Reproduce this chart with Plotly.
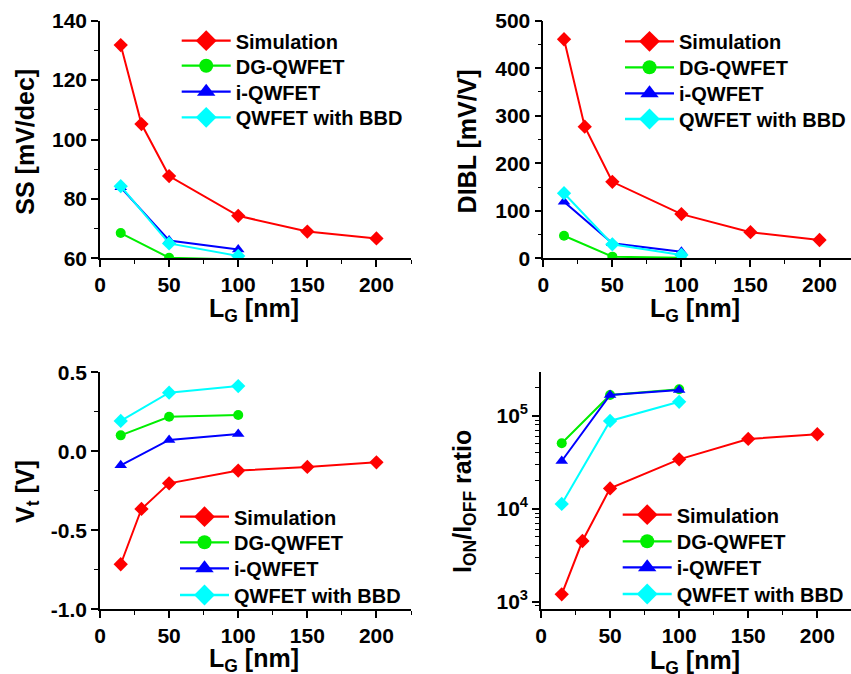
import plotly.graph_objects as go

# ---------------- data ----------------
series_names = ["Simulation", "DG-QWFET", "i-QWFET", "QWFET with BBD"]
lg_sim = [15, 30, 50, 100, 150, 200]
lg_dev = [15, 50, 100]

ss_sim = [131.8, 105.2, 87.7, 74.3, 69.0, 66.7]
ss_dg = [68.5, 60.2, 59.6]
ss_i = [83.9, 66.0, 63.0]
ss_bbd = [84.3, 65.0, 60.8]

dibl_sim = [461, 277, 161, 93, 55, 38.5]
dibl_dg = [47.5, 3.5, 1.0]
dibl_i = [119, 31.5, 14]
dibl_bbd = [137, 29.5, 7]

vt_sim = [-0.715, -0.365, -0.203, -0.122, -0.099, -0.07]
vt_dg = [0.101, 0.219, 0.23]
vt_i = [-0.089, 0.072, 0.11]
vt_bbd = [0.192, 0.371, 0.413]

ion_sim = [1200, 4500, 16600, 34100, 56500, 63500]
ion_dg = [50800, 168000, 194000]
ion_i = [32700, 168000, 190000]
ion_bbd = [11300, 88300, 142000]

x_ticks = [0, 50, 100, 150, 200]
x_tick_labels = ["0", "50", "100", "150", "200"]
vt_ticks = [0.5, 0.0, -0.5, -1.0]
vt_tick_labels = ["0.5", "0.0", "-0.5", "-1.0"]
ion_ticks = [1e3, 1e4, 1e5]
ion_tick_labels = ["10<sup>3</sup>", "10<sup>4</sup>", "10<sup>5</sup>"]
ion_minor = [m * 10 ** e for e in (2, 3, 4, 5) for m in range(2, 10)]

colors = ["#FF0000", "#00EE00", "#0000FF", "#00FFFF"]
symbols = ["diamond", "circle", "triangle-up", "diamond"]
msizes = [11, 10, 11, 11]
leg_sizes = [16, 14, 16, 16]

panels = [
    dict(sim=ss_sim, dg=ss_dg, i=ss_i, bbd=ss_bbd),
    dict(sim=dibl_sim, dg=dibl_dg, i=dibl_i, bbd=dibl_bbd),
    dict(sim=vt_sim, dg=vt_dg, i=vt_i, bbd=vt_bbd),
    dict(sim=ion_sim, dg=ion_dg, i=ion_i, bbd=ion_bbd),
]

W, H = 851, 674
FONT = "Liberation Sans, Arial, sans-serif"


def legname(idx):
    return "legend" if idx == 1 else f"legend{idx}"


fig = go.Figure()

for p, d in enumerate(panels):
    xa = "x" if p == 0 else f"x{p+1}"
    ya = "y" if p == 0 else f"y{p+1}"
    ys = [d["sim"], d["dg"], d["i"], d["bbd"]]
    xs = [lg_sim, lg_dev, lg_dev, lg_dev]
    for k in range(4):
        fig.add_trace(go.Scatter(
            x=xs[k], y=ys[k], mode="lines+markers", xaxis=xa, yaxis=ya,
            line=dict(color=colors[k], width=2.0),
            marker=dict(symbol=symbols[k], size=msizes[k], color=colors[k]),
            showlegend=False, name=series_names[k]))
    # legend entries (no data points), one legend per entry
    for k in range(4):
        fig.add_trace(go.Scatter(
            x=[None], y=[None], mode="lines+markers", xaxis=xa, yaxis=ya,
            line=dict(color=colors[k], width=2.3),
            marker=dict(symbol=symbols[k], size=leg_sizes[k], color=colors[k]),
            showlegend=True, legend=legname(p * 4 + k + 1),
            name="<b>" + series_names[k] + "</b>"))

# geometry (pixels)
xdom_px = [(100, 411), (543.3, 851), (100, 411), (541, 851)]
xrng = [[0, 225], [0, 222.8], [0, 225], [0, 224.4]]
ydom_px = [(20.7, 258.3), (20.7, 258.3), (372.3, 609.3), (372.3, 609.3)]
yrng = [[60, 140], [0, 500], [-1.0, 0.5], [2.918, 5.47]]
ydt = [20, 100, 0.5, None]
ymdt = [10, 50, 0.25, None]

tickfont = dict(family=FONT, size=21, color="black", weight="bold")
axline = dict(showline=True, linecolor="black", linewidth=1.6, showgrid=False,
              zeroline=False, tickcolor="black", tickwidth=1.6, ticklen=7)

layout = dict(width=W, height=H, margin=dict(l=0, r=0, t=0, b=0, autoexpand=False),
              paper_bgcolor="white", plot_bgcolor="white", showlegend=True)

for p in range(4):
    n = p + 1
    xk = "xaxis" if p == 0 else f"xaxis{n}"
    yk = "yaxis" if p == 0 else f"yaxis{n}"
    xid = "x" if p == 0 else f"x{n}"
    yid = "y" if p == 0 else f"y{n}"
    xd = [xdom_px[p][0] / W, min(1.0, xdom_px[p][1] / W)]
    yd = [1 - ydom_px[p][1] / H, 1 - ydom_px[p][0] / H]
    layout[xk] = dict(domain=xd, range=xrng[p], anchor=yid, ticks="outside",
                      tickmode="array", tickvals=x_ticks,
                      ticktext=["<b>" + t + "</b>" for t in x_tick_labels],
                      minor=dict(tickmode="linear", tick0=0, dtick=25, ticks="outside",
                                 ticklen=4, tickwidth=1.4, tickcolor="black"),
                      tickfont=tickfont, **axline)
    # top mirror axis with inside ticks
    layout[f"xaxis{n+4}"] = dict(overlaying=xid, anchor=yid, side="top", range=xrng[p],
                                 ticks="inside", tickmode="array", tickvals=x_ticks,
                                 showticklabels=False,
                                 minor=dict(tickmode="linear", tick0=0, dtick=25, ticks="inside",
                                            ticklen=4, tickwidth=1.4, tickcolor="black"),
                                 **axline)
    if p < 3:
        ycfg = dict(domain=yd, range=yrng[p], anchor=xid, ticks="outside",
                    minor=dict(tickmode="linear", tick0=0, dtick=ymdt[p], ticks="outside",
                               ticklen=4, tickwidth=1.4, tickcolor="black"),
                    tickfont=tickfont, **axline)
        if p == 2:
            ycfg.update(tickmode="array", tickvals=vt_ticks,
                        ticktext=["<b>" + t + "</b>" for t in vt_tick_labels])
        else:
            ycfg.update(tickmode="linear", tick0=0, dtick=ydt[p])
        layout[yk] = ycfg
        rcfg = dict(overlaying=yid, anchor=xid, side="right", range=yrng[p],
                    ticks="inside", showticklabels=False,
                    minor=dict(tickmode="linear", tick0=0, dtick=ymdt[p], ticks="inside",
                               ticklen=4, tickwidth=1.4, tickcolor="black"),
                    **axline)
        if p == 2:
            rcfg.update(tickmode="array", tickvals=vt_ticks)
        else:
            rcfg.update(tickmode="linear", tick0=0, dtick=ydt[p])
        layout[f"yaxis{n+4}"] = rcfg
    else:
        layout[yk] = dict(domain=yd, type="log", range=yrng[p], anchor=xid, ticks="outside",
                          tickmode="array", tickvals=ion_ticks,
                          ticktext=["<b>" + t + "</b>" for t in ion_tick_labels],
                          minor=dict(tickmode="array", tickvals=ion_minor, ticks="outside",
                                     ticklen=4, tickwidth=1.4, tickcolor="black"),
                          tickfont=tickfont, **axline)
        layout[f"yaxis{n+4}"] = dict(overlaying=yid, anchor=xid, side="right", type="log",
                                     range=yrng[p], ticks="inside", showticklabels=False,
                                     tickmode="array", tickvals=ion_ticks,
                                     minor=dict(tickmode="array", tickvals=ion_minor, ticks="inside",
                                                ticklen=4, tickwidth=1.4, tickcolor="black"),
                                     **axline)

# legends: left x of line sample and row centres (pixels)
legfont = dict(family=FONT, size=20, color="black", weight="bold")
leg_x = [176.7, 620, 175, 617.7]
leg_rows = [[41.7, 66.7, 92.7, 118.3], [42.3, 68.3, 94.3, 120.0],
            [517.7, 543.3, 569.3, 596.0], [515.7, 542.3, 568.3, 595.0]]
ROW_OFF = 20.5
for p in range(4):
    for k in range(4):
        key = legname(p * 4 + k + 1)
        layout[key] = dict(x=leg_x[p] / W, y=1 - (leg_rows[p][k] - ROW_OFF) / H,
                           xanchor="left", yanchor="top",
                           bgcolor="rgba(0,0,0,0)", borderwidth=0, font=legfont,
                           itemsizing="trace", itemwidth=49)

fig.update_layout(**layout)

# axis titles
titlefont = dict(family=FONT, size=25, color="black", weight="bold")
titles = [
    ("SS [mV/dec]", 25, 141.7, -90),
    ("DIBL [mV/V]", 466.7, 141.7, -90),
    ("V<sub>t</sub> [V]", 27, 492, -90),
    ("I<sub>ON</sub>/I<sub>OFF</sub> ratio", 463.3, 501.7, -90),
    ("L<sub>G</sub> [nm]", 254, 310, 0),
    ("L<sub>G</sub> [nm]", 695, 310, 0),
    ("L<sub>G</sub> [nm]", 254, 660, 0),
    ("L<sub>G</sub> [nm]", 695, 662, 0),
]
for t, x, y, ang in titles:
    fig.add_annotation(text="<b>" + t + "</b>", x=x / W, y=1 - y / H, xref="paper", yref="paper",
                       xanchor="center", yanchor="middle", showarrow=False,
                       textangle=ang, font=titlefont)

fig.write_html("out.html")
